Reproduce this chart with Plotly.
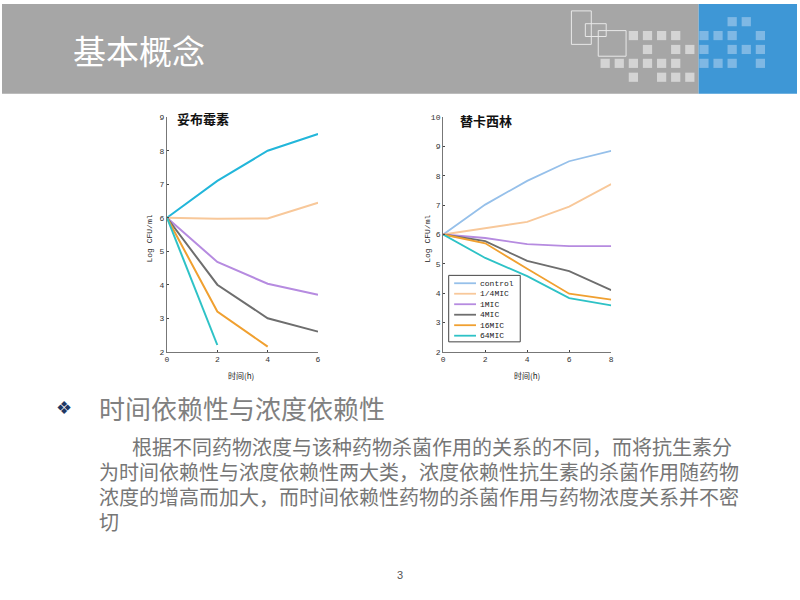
import plotly.graph_objects as go

W, H = 800, 600

# ---------------- data ----------------
left_title = "妥布霉素"
right_title = "替卡西林"
y_title = "Log CFU/ml"
x_title = "时间(h)"

left_x = [0, 2, 4, 6]
left_top = [6, 7.1, 8.0, 8.5]
left_quarter = [6, 5.97, 5.98, 6.45]
left_1mic = [6, 4.68, 4.03, 3.7]
left_4mic = [6, 4.0, 3.0, 2.6]
left_16mic_x = [0, 2, 4]
left_16mic = [6, 3.2, 2.15]
left_64mic_x = [0, 2]
left_64mic = [6, 2.2]

right_x = [0, 2, 4, 6, 8]
right_names = ["control", "1/4MIC", "1MIC", "4MIC", "16MIC", "64MIC"]
right_control = [6, 7.02, 7.83, 8.5, 8.85]
right_quarter = [6, 6.22, 6.43, 6.95, 7.72]
right_1mic = [6, 5.88, 5.67, 5.6, 5.6]
right_4mic = [6, 5.77, 5.1, 4.75, 4.1]
right_16mic = [6, 5.7, 4.83, 3.98, 3.78]
right_64mic = [6, 5.2, 4.58, 3.83, 3.58]

left_xticks = [0, 2, 4, 6]
left_yticks = [2, 3, 4, 5, 6, 7, 8, 9]
right_xticks = [0, 2, 4, 6, 8]
right_yticks = [2, 3, 4, 5, 6, 7, 8, 9, 10]

slide_title = "基本概念"
heading = "时间依赖性与浓度依赖性"
para_lines = [
    "根据不同药物浓度与该种药物杀菌作用的关系的不同，而将抗生素分",
    "为时间依赖性与浓度依赖性两大类，浓度依赖性抗生素的杀菌作用随药物",
    "浓度的增高而加大，而时间依赖性药物的杀菌作用与药物浓度关系并不密",
    "切",
]
page_no = "3"

# ---------------- styles ----------------
C_CONTROL = "#96C0EA"
C_QUARTER = "#F8C89A"
C_1MIC = "#B68BE0"
C_4MIC = "#6E6E6E"
C_16MIC = "#F0A030"
C_64MIC = "#2EC2C6"
C_TOPCYAN = "#22B6DA"
right_colors = [C_CONTROL, C_QUARTER, C_1MIC, C_4MIC, C_16MIC, C_64MIC]

def px(x):
    return x / W

def py(y):
    return 1 - y / H

fig = go.Figure()

# left chart traces
for xs, ys, c in [
    (left_x, left_top, C_TOPCYAN),
    (left_x, left_quarter, C_QUARTER),
    (left_x, left_1mic, C_1MIC),
    (left_x, left_4mic, C_4MIC),
    (left_16mic_x, left_16mic, C_16MIC),
    (left_64mic_x, left_64mic, C_64MIC),
]:
    fig.add_trace(go.Scatter(x=xs, y=ys, mode="lines", line=dict(color=c, width=2),
                             xaxis="x", yaxis="y", showlegend=False, hoverinfo="skip"))

# right chart traces
for name, ys, c in zip(right_names,
                       [right_control, right_quarter, right_1mic, right_4mic, right_16mic, right_64mic],
                       right_colors):
    fig.add_trace(go.Scatter(x=right_x, y=ys, mode="lines", name=name,
                             line=dict(color=c, width=1.8),
                             xaxis="x2", yaxis="y2", showlegend=False))

tickfont = dict(family="Liberation Mono", size=8, color="#333333")
axcommon = dict(showgrid=False, zeroline=False, showline=True, linecolor="#777777",
                linewidth=1.3, ticks="inside", ticklen=2, tickcolor="#444444",
                tickfont=tickfont, fixedrange=True)

ydom = [py(353), py(115)]
fig.update_layout(
    width=W, height=H,
    margin=dict(l=0, r=0, t=0, b=0),
    paper_bgcolor="white", plot_bgcolor="white",
    xaxis=dict(domain=[px(166), px(318)], range=[0, 6], tickvals=left_xticks,
               anchor="y", **axcommon),
    yaxis=dict(domain=ydom, range=[2, 9], tickvals=left_yticks, anchor="x", **axcommon),
    xaxis2=dict(domain=[px(444), px(613)], range=[0, 8], tickvals=right_xticks,
                anchor="y2", **axcommon),
    yaxis2=dict(domain=ydom, range=[2, 10], tickvals=right_yticks, anchor="x2", **axcommon),
    showlegend=False,
)

shapes = []
# header bands
shapes.append(dict(type="rect", xref="paper", yref="paper", x0=0, x1=px(701), y0=py(91), y1=1,
                   fillcolor="#A6A6A6", line=dict(width=0), layer="below"))
shapes.append(dict(type="rect", xref="paper", yref="paper", x0=px(701), x1=1, y0=py(91), y1=1,
                   fillcolor="#3E97D6", line=dict(width=0), layer="below"))
# outlined decorative rectangles
for (x0, y0, x1, y1) in [(573, 7, 593, 41), (587, 20, 608, 33), (600, 27, 628, 53)]:
    shapes.append(dict(type="rect", xref="paper", yref="paper", x0=px(x0), x1=px(x1),
                       y0=py(y1), y1=py(y0), line=dict(color="#E8E8E8", width=1),
                       fillcolor="rgba(0,0,0,0)"))
# small decorative squares
grid_rows = {
    0: [9, 10],
    1: [2, 3, 4, 5, 7, 8, 9, 11],
    2: [3, 5, 6, 7, 9, 10, 11],
    3: [0, 1, 2, 3, 4, 5, 7, 8, 9, 11],
    4: [2, 4, 5, 6],
}
for r, cols in grid_rows.items():
    for cidx in cols:
        x0 = 602.3 + cidx * 14.2
        y0 = 13.3 + r * 14.1
        col = "#7FB8E4" if x0 >= 700 else "#D4D4D4"
        shapes.append(dict(type="rect", xref="paper", yref="paper", x0=px(x0), x1=px(x0 + 9.3),
                           y0=py(y0 + 9.3), y1=py(y0), fillcolor=col, line=dict(width=0)))

ann = []
# compact legend (box, sample lines, labels) for the right chart
shapes.append(dict(type="rect", xref="paper", yref="paper", x0=px(449.5), x1=px(521.5),
                   y0=py(343), y1=py(275.5), fillcolor="white",
                   line=dict(color="#444444", width=1)))
for i, (name, c) in enumerate(zip(right_names, right_colors)):
    yy = 283.5 + i * 10.65
    shapes.append(dict(type="line", xref="paper", yref="paper", x0=px(455), x1=px(477),
                       y0=py(yy), y1=py(yy), line=dict(color=c, width=1.8)))
    ann.append(dict(text=name, x=px(478.5), y=py(yy), xref="paper", yref="paper",
                    xanchor="left", yanchor="middle", showarrow=False,
                    font=dict(family="Liberation Mono", size=8, color="#222222")))
fig.update_layout(shapes=shapes)

ann.append(dict(text=slide_title, x=px(69), y=py(47), xref="paper", yref="paper",
                xanchor="left", yanchor="middle", showarrow=False,
                font=dict(family="Noto Sans CJK SC", size=33, color="white")))
# chart titles
ann.append(dict(text="<b>" + left_title + "</b>", x=px(174), y=py(116), xref="paper", yref="paper",
                xanchor="left", yanchor="middle", showarrow=False,
                font=dict(family="Noto Sans CJK SC", size=13, color="#111111")))
ann.append(dict(text="<b>" + right_title + "</b>", x=px(459), y=py(118), xref="paper", yref="paper",
                xanchor="left", yanchor="middle", showarrow=False,
                font=dict(family="Noto Sans CJK SC", size=13, color="#111111")))
# axis titles
for xp in (148, 428):
    ann.append(dict(text=y_title, x=px(xp), y=py(238), xref="paper", yref="paper",
                    xanchor="center", yanchor="middle", textangle=-90, showarrow=False,
                    font=dict(family="Liberation Mono", size=8, color="#222222")))
for xp in (241, 528):
    ann.append(dict(text=x_title, x=px(xp), y=py(377), xref="paper", yref="paper",
                    xanchor="center", yanchor="middle", showarrow=False,
                    font=dict(family="Noto Sans CJK SC", size=8, color="#222222")))
# bullet + heading
ann.append(dict(text="❖", x=px(62), y=py(410), xref="paper", yref="paper",
                xanchor="center", yanchor="middle", showarrow=False,
                font=dict(family="DejaVu Sans", size=18, color="#1F3864")))
ann.append(dict(text=heading, x=px(96), y=py(410), xref="paper", yref="paper",
                xanchor="left", yanchor="middle", showarrow=False,
                font=dict(family="Noto Sans CJK SC", size=26, color="#808080")))
line_y = [449, 475, 500, 525]
line_x = [129, 96, 96, 96]
for t, yy, xx in zip(para_lines, line_y, line_x):
    ann.append(dict(text=t, x=px(xx), y=py(yy), xref="paper", yref="paper",
                    xanchor="left", yanchor="middle", showarrow=False,
                    font=dict(family="Noto Sans CJK SC", size=20, color="#767676")))
ann.append(dict(text=page_no, x=px(401), y=py(580), xref="paper", yref="paper",
                xanchor="center", yanchor="middle", showarrow=False,
                font=dict(family="Liberation Sans", size=11, color="#555555")))
fig.update_layout(annotations=ann)

fig.write_html("out.html")
